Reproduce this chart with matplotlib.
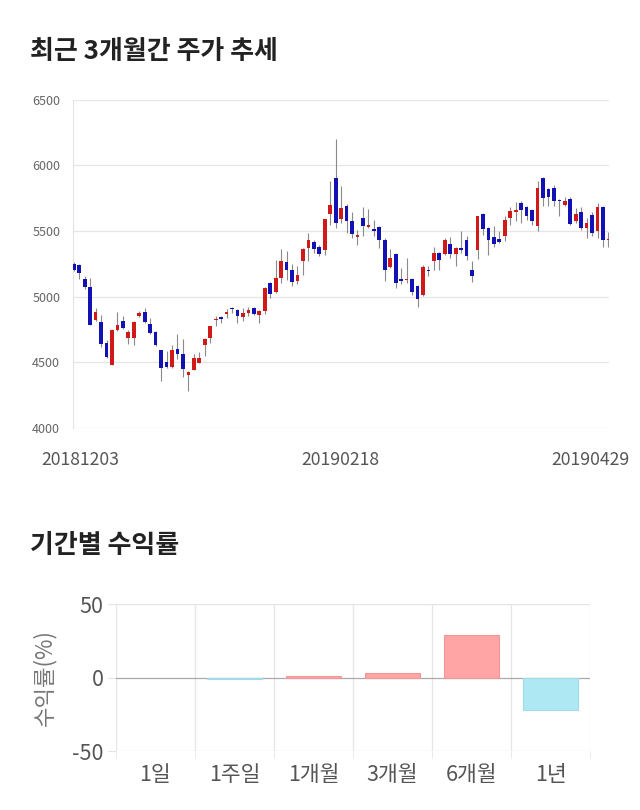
import matplotlib
matplotlib.use("Agg")
import numpy as np
from matplotlib import pyplot as plt

plt.rcParams['font.family'] = ['Noto Sans CJK KR', 'DejaVu Sans']

# daily prices, 20181203 .. 20190429
opens = [5250, 5240, 5134, 5073, 4819, 4804, 4648, 4481, 4743, 4816,
         4686, 4682, 4852, 4880, 4793, 4727, 4593, 4504, 4461, 4600,
         4562, 4403, 4443, 4496, 4628, 4684, 4820, 4836, 4869, 4915,
         4900, 4844, 4875, 4913, 4859, 4887, 5103, 5034, 5141, 5263,
         5202, 5121, 5268, 5370, 5413, 5382, 5357, 5631, 5903, 5591,
         5692, 5573, 5451, 5603, 5532, 5515, 5530, 5433, 5222, 5324,
         5134, 5123, 5136, 5078, 5009, 5205, 5268, 5332, 5324, 5403,
         5324, 5370, 5428, 5205, 5352, 5631, 5522, 5451, 5438, 5459,
         5598, 5649, 5713, 5682, 5657, 5540, 5903, 5819, 5832, 5738,
         5700, 5743, 5573, 5642, 5522, 5619, 5497, 5682, 5428]
highs = [5262, 5245, 5154, 5139, 4913, 4856, 4671, 4750, 4885, 4849,
         4745, 4810, 4888, 4910, 4839, 4735, 4595, 4583, 4633, 4715,
         4677, 4430, 4560, 4580, 4685, 4778, 4849, 4850, 4907, 4918,
         4905, 4912, 4920, 4920, 4900, 5070, 5110, 5281, 5362, 5349,
         5250, 5230, 5370, 5484, 5430, 5390, 5595, 5878, 6200, 5840,
         5710, 5649, 5510, 5682, 5669, 5586, 5540, 5445, 5362, 5330,
         5217, 5294, 5141, 5085, 5243, 5230, 5382, 5340, 5446, 5451,
         5380, 5497, 5459, 5268, 5615, 5640, 5530, 5535, 5497, 5616,
         5682, 5720, 5730, 5690, 5665, 5885, 5910, 5830, 5852, 5745,
         5758, 5758, 5675, 5687, 5598, 5642, 5713, 5690, 5489]
lows = [5195, 5134, 5060, 4780, 4815, 4616, 4530, 4478, 4740, 4750,
        4638, 4628, 4848, 4800, 4715, 4620, 4354, 4455, 4455, 4527,
        4387, 4278, 4440, 4490, 4549, 4646, 4778, 4800, 4837, 4874,
        4798, 4810, 4850, 4860, 4798, 4869, 4989, 5030, 5103, 5128,
        5078, 5095, 5167, 5268, 5335, 5306, 5314, 5547, 5522, 5560,
        5484, 5446, 5395, 5459, 5525, 5459, 5370, 5121, 5215, 5065,
        5098, 5105, 5014, 4920, 5005, 5159, 5205, 5205, 5320, 5294,
        5235, 5332, 5281, 5111, 5286, 5471, 5314, 5380, 5410, 5425,
        5547, 5573, 5560, 5586, 5547, 5497, 5692, 5692, 5692, 5611,
        5690, 5545, 5565, 5510, 5446, 5459, 5446, 5377, 5382]
closes = [5205, 5180, 5071, 4786, 4880, 4641, 4537, 4747, 4783, 4758,
          4732, 4808, 4877, 4806, 4722, 4628, 4453, 4461, 4595, 4562,
          4450, 4423, 4529, 4529, 4679, 4773, 4826, 4832, 4885, 4902,
          4849, 4874, 4895, 4869, 4890, 5065, 5022, 5144, 5273, 5202,
          5111, 5164, 5365, 5433, 5362, 5324, 5591, 5702, 5560, 5674,
          5573, 5479, 5471, 5535, 5545, 5502, 5433, 5205, 5294, 5103,
          5121, 5134, 5032, 4981, 5222, 5192, 5332, 5281, 5433, 5324,
          5370, 5352, 5311, 5154, 5611, 5515, 5433, 5400, 5420, 5581,
          5654, 5662, 5662, 5611, 5573, 5832, 5751, 5758, 5730, 5730,
          5730, 5553, 5631, 5522, 5560, 5484, 5682, 5428, 5438]
date_labels = ['20181203', '20190218', '20190429']
price_ticks = [4000, 4500, 5000, 5500, 6000, 6500]

periods = ['1일', '1주일', '1개월', '3개월', '6개월', '1년']
returns = [0.0, -0.9, 0.7, 3.2, 29.1, -22.0]

fig = plt.figure(figsize=(6.4, 8.1), dpi=100)

# ---- candlestick chart ----
ax = fig.add_axes([0.1136, 0.472, 0.8384, 0.4046])
o = np.array(opens)
c = np.array(closes)
h = np.array(highs)
l = np.array(lows)
x = np.arange(len(o))
up = c > o
colors = np.where(up, '#d01a1a', '#1212b4')
ax.vlines(x, l, h, color='#8a8a8a', linewidth=0.8, zorder=2)
bottom = np.minimum(o, c)
height = np.maximum(np.abs(c - o), 10)
ax.bar(x, height, bottom=bottom, width=0.68, color=colors, zorder=3,
       linewidth=0)

ax.set_ylim(4000, 6500)
ax.set_xlim(-0.2, len(o) - 0.85)
ax.set_yticks(price_ticks)
ax.set_yticklabels([str(p) for p in price_ticks])
ax.grid(axis='y', color='#e6e6e6', linewidth=0.9)
ax.set_xticks([])
for side in ['top', 'right', 'bottom']:
    ax.spines[side].set_visible(False)
ax.spines['left'].set_color('#e3e3e3')
ax.tick_params(axis='y', length=0, pad=9, labelsize=9, labelcolor='#666666')

for xpos, lab in zip([0.125, 0.531, 0.922], date_labels):
    fig.text(xpos, 0.432, lab, ha='center', va='center', fontsize=12.7,
             color='#555555')

fig.text(0.047, 0.936, '최근 3개월간 주가 추세', fontsize=18.7,
         fontweight='bold', color='#222222', va='center')
fig.text(0.047, 0.327, '기간별 수익률', fontsize=18.7,
         fontweight='bold', color='#222222', va='center')

# ---- period returns ----
ax2 = fig.add_axes([0.181, 0.0728, 0.741, 0.1815])
bar_colors = ['#ffa5a5' if r >= 0 else '#ade8f3' for r in returns]
edge_colors = ['none' if r == 0 else ('#f09898' if r > 0 else '#9fdcea')
               for r in returns]
ax2.bar(range(len(periods)), returns, width=0.7, color=bar_colors,
        edgecolor=edge_colors, linewidth=0.8, zorder=3)
ax2.set_xlim(-0.5, len(periods) - 0.5)
ax2.set_ylim(-50, 50)
ax2.set_yticks([-50, 0, 50])
ax2.set_yticklabels(['-50', '0', '50'])
ax2.set_xticks(range(len(periods)))
ax2.set_xticklabels(periods)
ax2.set_xticks(np.arange(-0.5, len(periods)), minor=True)
ax2.grid(axis='x', which='minor', color='#e6e6e6', linewidth=0.9)
for yv in [-50, 50]:
    ax2.axhline(yv, color='#e3e3e3', linewidth=0.9, zorder=1)
ax2.axhline(0, color='#aaaaaa', linewidth=0.9, zorder=2)
for side in ['top', 'right', 'bottom', 'left']:
    ax2.spines[side].set_visible(False)
ax2.tick_params(axis='x', which='major', length=0, pad=9, labelsize=15.5,
                labelcolor='#555555')
ax2.tick_params(axis='x', which='minor', length=5, color='#e6e6e6')
ax2.tick_params(axis='y', length=6, color='#e3e3e3', pad=3, labelsize=15.5,
                labelcolor='#555555')
ax2.set_ylabel('수익률(%)', fontsize=16, color='#777777', labelpad=11)

fig.savefig('out.png', dpi=100)
